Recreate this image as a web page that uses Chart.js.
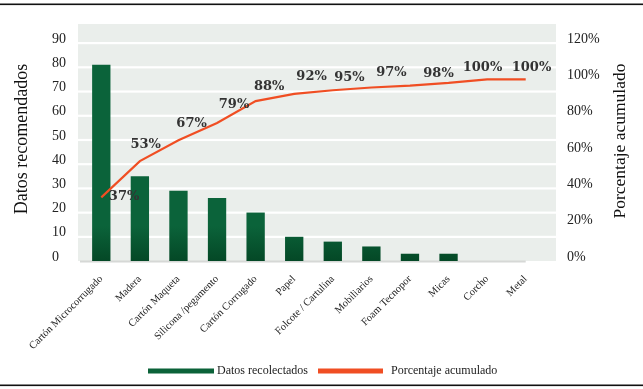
<!DOCTYPE html>
<html>
<head>
<meta charset="utf-8">
<script src="https://cdn.jsdelivr.net/npm/chart.js@4.4.1/dist/chart.umd.min.js"></script>
<style>
  html, body { margin: 0; padding: 0; background: #ffffff; }
  #wrap { width: 643px; height: 389px; }
</style>
</head>
<body>
<div id="wrap"><canvas id="c" width="643" height="389"></canvas></div>
<script>
// ---- DATA ----
const categories = ['Cartón Microcorrugado', 'Madera', 'Cartón Maqueta', 'Silicona /pegamento',
  'Cartón Corrugado', 'Papel', 'Folcote / Cartulina', 'Mobiliarios', 'Foam Tecnopor',
  'Micas', 'Corcho', 'Metal'];
const datosRecolectados = [81, 35, 29, 26, 20, 10, 8, 6, 3, 3, 0, 0];
const porcentajeAcumulado = [35, 55, 66.5, 76, 88, 92, 94, 95.5, 96.5, 98, 100, 100];
const pctLabels = ['37%', '53%', '67%', '79%', '88%', '92%', '95%', '97%', '98%', '100%', '100%'];
// label anchors in data units (category index, percentage)
const pctLabelIdx = [0.59, 1.15, 2.34, 3.44, 4.35, 5.45, 6.43, 7.52, 8.74, 9.88, 11.15];
const pctLabelVal = [35.2, 63.8, 75.4, 85.9, 95.8, 101.4, 101.2, 103.6, 103.4, 106.7, 106.7];
const leftTicks = { min: 0, max: 90, step: 10 };
const rightTicks = { min: 0, max: 120, step: 20 };

const GREEN = '#0b6239';
const ORANGE = '#f04e23';
const SERIF = "'Liberation Serif', 'DejaVu Serif', serif";

Chart.defaults.font.family = SERIF;
Chart.defaults.color = '#222';

const backgroundPlugin = {
  id: 'bgPlugin',
  beforeDraw(chart) {
    const { ctx, chartArea: a, scales } = chart;
    ctx.save();
    ctx.fillStyle = '#ffffff';
    ctx.fillRect(0, 0, chart.width, chart.height);
    // horizontal rules of the page
    ctx.fillStyle = '#111';
    ctx.fillRect(0, 3.5, chart.width, 1.6);
    ctx.fillRect(0, 384.5, chart.width, 1.6);
    // plot background
    const L = a.left - 4, R = a.right + 11, T = a.top - 19, B = a.bottom;
    ctx.fillStyle = '#eaeeeb';
    ctx.fillRect(L, T, R - L, B - T);
    // white gridlines
    ctx.fillStyle = '#ffffff';
    const y = scales.y;
    y.ticks.forEach(t => {
      if (t.value === 0) return;
      const py = y.getPixelForValue(t.value);
      ctx.fillRect(L, py - 1, R - L, 2.2);
    });
    // baseline
    ctx.fillStyle = '#d6d8d6';
    const x = scales.x;
    ctx.fillRect(a.left - 2, B - 0.5, x.getPixelForValue(categories.length - 1) - a.left + 2, 2);
    ctx.restore();
  }
};

const overlayPlugin = {
  id: 'overlayPlugin',
  afterDraw(chart) {
    const { ctx, scales } = chart;
    ctx.save();
    // percentage labels
    ctx.font = "bold 13px 'DejaVu Serif', serif";
    ctx.fillStyle = '#333333';
    ctx.textAlign = 'center';
    ctx.textBaseline = 'middle';
    pctLabels.forEach((txt, i) => {
      const px = scales.x.getPixelForValue(pctLabelIdx[i]);
      const py = scales.y1.getPixelForValue(pctLabelVal[i]);
      ctx.fillText(txt, px, py);
    });
    // axis titles (both read bottom-to-top)
    ctx.fillStyle = '#111';
    ctx.font = "18px " + SERIF;
    ctx.save();
    ctx.translate(22, 139);
    ctx.rotate(-Math.PI / 2);
    ctx.fillText('Datos recomendados', 0, 0);
    ctx.restore();
    ctx.font = "17.5px " + SERIF;
    ctx.save();
    ctx.translate(620, 141);
    ctx.rotate(-Math.PI / 2);
    ctx.fillText('Porcentaje acumulado', 0, 0);
    ctx.restore();
    // legend
    const ds = chart.data.datasets;
    const items = [
      { label: ds[0].label, color: GREEN, x0: 148, x1: 214, tx: 217 },
      { label: ds[1].label, color: ORANGE, x0: 318, x1: 383, tx: 391 }
    ];
    ctx.font = "12px " + SERIF;
    ctx.textAlign = 'left';
    ctx.textBaseline = 'middle';
    items.forEach(it => {
      ctx.fillStyle = it.color;
      ctx.fillRect(it.x0, 368.5, it.x1 - it.x0, 5);
      ctx.fillStyle = '#222';
      ctx.fillText(it.label, it.tx, 370.5);
    });
    ctx.restore();
  }
};

function barGradient(context) {
  const chart = context.chart;
  const a = chart.chartArea;
  if (!a) return GREEN;
  const g = chart.ctx.createLinearGradient(0, a.bottom - 35, 0, a.bottom);
  g.addColorStop(0, '#0b633a');
  g.addColorStop(1, '#044826');
  return g;
}

new Chart(document.getElementById('c'), {
  data: {
    labels: categories,
    datasets: [
      {
        type: 'bar',
        label: 'Datos recolectados',
        data: datosRecolectados,
        backgroundColor: barGradient,
        borderWidth: 0,
        barPercentage: 0.95,
        categoryPercentage: 0.5,
        yAxisID: 'y',
        order: 2
      },
      {
        type: 'line',
        label: 'Porcentaje acumulado',
        data: porcentajeAcumulado,
        borderColor: ORANGE,
        backgroundColor: ORANGE,
        borderWidth: 2.2,
        pointRadius: 0,
        tension: 0,
        yAxisID: 'y1',
        order: 1
      }
    ]
  },
  options: {
    responsive: false,
    animation: false,
    events: [],
    layout: { padding: { left: 52, right: 0, top: 43, bottom: 0 } },
    plugins: {
      legend: { display: false },
      tooltip: { enabled: false },
      title: { display: false }
    },
    scales: {
      x: {
        type: 'category',
        offset: true,
        grid: { display: false, drawTicks: false },
        border: { display: false },
        ticks: {
          autoSkip: false,
          minRotation: 45,
          maxRotation: 45,
          padding: 12,
          color: '#222',
          font: { size: 10.5, family: SERIF }
        },
        afterFit(s) { s.height = 128; }
      },
      y: {
        position: 'left',
        min: leftTicks.min,
        max: leftTicks.max,
        grid: { display: false, drawTicks: false },
        border: { display: false },
        ticks: {
          stepSize: leftTicks.step,
          crossAlign: 'far',
          labelOffset: -4,
          color: '#222',
          font: { size: 14, family: SERIF }
        },
        afterFit(s) { s.width = 30; }
      },
      y1: {
        position: 'right',
        min: rightTicks.min,
        max: rightTicks.max,
        grid: { display: false, drawTicks: false },
        border: { display: false },
        ticks: {
          stepSize: rightTicks.step,
          padding: 22,
          labelOffset: -4,
          color: '#222',
          font: { size: 14, family: SERIF },
          callback: v => v + '%'
        },
        afterFit(s) { s.width = 98; }
      }
    }
  },
  plugins: [backgroundPlugin, overlayPlugin]
});
</script>
</body>
</html>
